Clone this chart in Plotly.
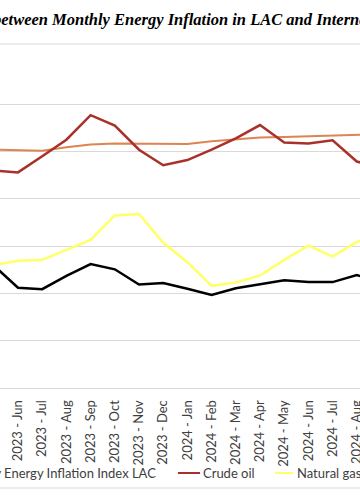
import plotly.graph_objects as go

months = ["2023 - May", "2023 - Jun", "2023 - Jul", "2023 - Aug", "2023 - Sep", "2023 - Oct",
          "2023 - Nov", "2023 - Dec", "2024 - Jan", "2024 - Feb", "2024 - Mar", "2024 - Apr",
          "2024 - May", "2024 - Jun", "2024 - Jul", "2024 - Aug", "2024 - Sep"]

lac_index = [25.9, 21.2, 20.9, 23.7, 26.2, 25.1, 21.9, 22.2, 21.0, 19.7, 21.1, 21.9, 22.8, 22.4, 22.4, 23.9, 22.2]
crude_oil = [46.0, 45.6, 49.0, 52.5, 57.7, 55.5, 50.4, 47.1, 48.2, 50.4, 52.8, 55.6, 51.9, 51.7, 52.4, 47.9, 46.5]
coal = [50.4, 50.3, 50.2, 50.9, 51.5, 51.7, 51.7, 51.6, 51.6, 52.2, 52.6, 53.0, 53.1, 53.3, 53.5, 53.6, 53.7]
natural_gas = [26.0, 26.9, 27.1, 29.2, 31.3, 36.5, 36.8, 30.7, 26.6, 21.6, 22.3, 23.8, 27.1, 30.1, 27.8, 30.9, 32.6]

title_text = "between Monthly Energy Inflation in LAC and International Energy Prices"

W, H = 360, 504
T, B = 57, 116
plot_h = H - T - B


def py(pix):
    return (H - B - pix) / plot_h


fig = go.Figure()
fig.add_trace(go.Scatter(x=months, y=coal, mode="lines", name="Coal",
                         line=dict(color="#DD8452", width=2)))
fig.add_trace(go.Scatter(x=months, y=natural_gas, mode="lines", name="Natural gas",
                         line=dict(color="#FFFF66", width=2.5)))
fig.add_trace(go.Scatter(x=months, y=lac_index, mode="lines", name="Monthly Energy Inflation Index LAC",
                         line=dict(color="#000000", width=2.5)))
fig.add_trace(go.Scatter(x=months, y=crude_oil, mode="lines", name="Crude oil",
                         line=dict(color="#A8322A", width=2.5)))

fig.update_layout(
    width=W, height=H,
    margin=dict(l=0, r=0, t=T, b=B, autoexpand=False),
    paper_bgcolor="white", plot_bgcolor="white",
    showlegend=False,
)
fig.update_xaxes(type="category", range=[0.256, 15.132], tickangle=-90,
                 tickfont=dict(family="Lato", size=13, color="#404040"),
                 showgrid=False, showline=True, linecolor="#d9d9d9", linewidth=1,
                 ticks="", ticklabelstandoff=6)
fig.update_yaxes(range=[0, 70], dtick=10, showticklabels=False, gridcolor="#d9d9d9",
                 gridwidth=1, zeroline=False, showline=False)

# chart border
fig.add_shape(type="rect", xref="paper", yref="paper", x0=-0.1, x1=1.1,
              y0=py(488), y1=py(44), line=dict(color="#d9d9d9", width=1), layer="below")

# title
fig.add_annotation(text="<b><i>" + title_text + "</i></b>", xref="paper", yref="paper",
                   x=0, y=py(20), xanchor="left", yanchor="middle", xshift=-9, showarrow=False,
                   font=dict(family="Liberation Serif", size=16.5, color="#000000"))

# legend (manual, chart is cropped)
legend_y = py(473)
leg_font = dict(family="Lato", size=13, color="#404040")
fig.add_annotation(text="Monthly Energy Inflation Index LAC", xref="paper", yref="paper",
                   x=158 / W, y=legend_y, xanchor="right", yanchor="middle", showarrow=False,
                   font=leg_font)
fig.add_shape(type="line", xref="paper", yref="paper", x0=178 / W, x1=200 / W,
              y0=legend_y, y1=legend_y, line=dict(color="#A8322A", width=2))
fig.add_annotation(text="Crude oil", xref="paper", yref="paper",
                   x=201 / W, y=legend_y, xanchor="left", yanchor="middle", showarrow=False,
                   font=leg_font)
fig.add_shape(type="line", xref="paper", yref="paper", x0=275 / W, x1=293 / W,
              y0=legend_y, y1=legend_y, line=dict(color="#FFFF66", width=2))
fig.add_annotation(text="Natural gas", xref="paper", yref="paper",
                   x=295 / W, y=legend_y, xanchor="left", yanchor="middle", showarrow=False,
                   font=leg_font)

fig.write_html("out.html", config={"displayModeBar": False, "staticPlot": True},
               post_script="document.body.style.margin='0';document.body.style.overflow='hidden';")
